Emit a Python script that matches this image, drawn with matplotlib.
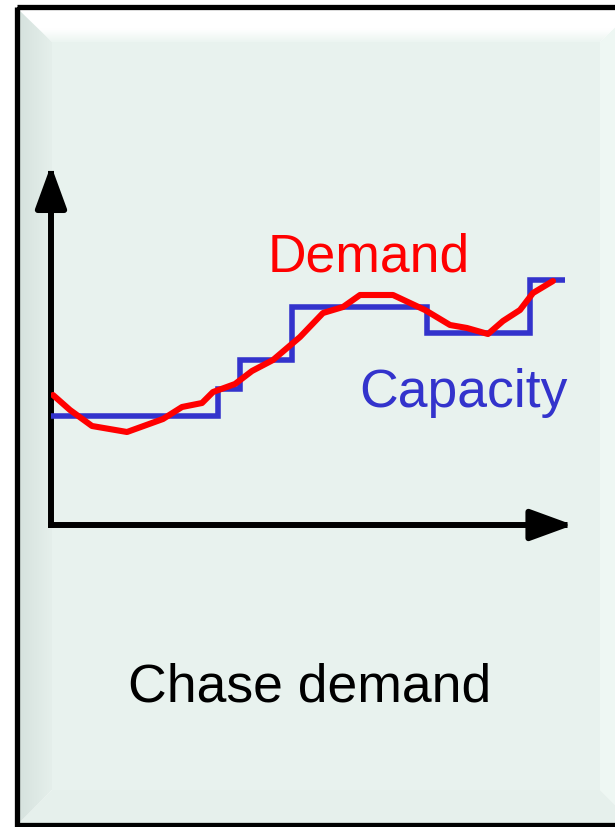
import numpy as np
import matplotlib.pyplot as plt
from matplotlib.patches import Polygon, Rectangle

plt.rcParams['font.family'] = ['Liberation Sans', 'DejaVu Sans']

# demand curve: period vs. units
demand_t = [2, 19, 41, 76, 112, 131, 151, 162, 184, 201, 222, 249, 272, 292,
            309, 342, 374, 399, 416, 437, 452, 469, 482, 502]
demand_y = [130, 115, 99, 93, 106, 118, 122, 133, 141, 154, 165, 188, 212, 218,
            230, 230, 215, 200, 197, 191, 204, 215, 232, 244]

# capacity is adjusted in steps
capacity_edges = [0, 167, 189, 241, 376, 479, 514]
capacity_levels = [109, 136, 165, 218, 192, 245]

RED = '#ff0000'
BLUE = '#3333cc'

fig = plt.figure(figsize=(6.15, 8.27), dpi=100)

# bevelled card behind the chart, drawn in pixel units
bg = fig.add_axes([0, 0, 1, 1])
bg.set_xlim(0, 615)
bg.set_ylim(827, 0)
bg.axis('off')

ox0, oy0, ox1, oy1 = 19, 10, 633, 823
ix0, iy0, ix1, iy1 = 52, 42, 600, 790

bg.add_patch(Rectangle((ix0, iy0), ix1 - ix0, iy1 - iy0, color='#e8f2ee', lw=0))

top = Polygon([(ox0, oy0), (ox1, oy0), (ix1, iy0), (ix0, iy0)], closed=True,
              facecolor='none', lw=0)
left = Polygon([(ox0, oy0), (ix0, iy0), (ix0, iy1), (ox0, oy1)], closed=True,
               facecolor='none', lw=0)
right = Polygon([(ox1, oy0), (ox1, oy1), (ix1, iy1), (ix1, iy0)], closed=True,
                facecolor='#eef7f3', lw=0)
bottom = Polygon([(ox0, oy1), (ix0, iy1), (ix1, iy1), (ox1, oy1)], closed=True,
                 facecolor='#e6f0ec', lw=0)
for p in (top, left, right, bottom):
    bg.add_patch(p)

# gradients for the lit top edge and the shaded left edge
g = np.linspace(0, 1, 64)
top_rgb = np.array([1.0, 1.0, 1.0])
top_end = np.array([236, 245, 241]) / 255
w = np.clip((g - 0.6) / 0.4, 0, 1)[:, None]
top_img = (top_rgb * (1 - w) + top_end * w)[:, None, :]
im = bg.imshow(top_img, extent=(ox0, ox1, iy0, oy0), aspect='auto',
               interpolation='bilinear', zorder=1)
im.set_clip_path(top)

left_a = np.array([214, 226, 222]) / 255
left_b = np.array([229, 239, 235]) / 255
left_img = (left_a * (1 - g[:, None]) + left_b * g[:, None])[None, :, :]
im = bg.imshow(left_img, extent=(ox0, ix0, oy1, oy0), aspect='auto',
               interpolation='bilinear', zorder=1)
im.set_clip_path(left)

bg.add_patch(Rectangle((16.5, 7.2), 700, 818, facecolor='none',
                       edgecolor='black', lw=3.8, zorder=3))

bg.text(310, 702, 'Chase demand', fontsize=38.5, color='black',
        ha='center', va='baseline', zorder=4)

# chart area
ax = fig.add_axes([51 / 615, (827 - 525) / 827, 514 / 615, 351 / 827])
ax.set_xlim(0, 514)
ax.set_ylim(0, 351)
ax.patch.set_alpha(0)
ax.axis('off')

arrow = dict(arrowstyle='-|>,head_length=2.6,head_width=0.95', mutation_scale=10,
             lw=4.3, color='black', shrinkA=0, shrinkB=0,
             capstyle='projecting', joinstyle='round')
ax.annotate('', xy=(0, 1.025), xytext=(0, 0), xycoords='axes fraction', arrowprops=arrow)
ax.annotate('', xy=(1.016, 0), xytext=(0, 0), xycoords='axes fraction', arrowprops=arrow)

ax.stairs(capacity_levels, capacity_edges, baseline=None, color=BLUE, lw=4.0, zorder=3)
ax.plot(demand_t, demand_y, color=RED, lw=4.4, solid_joinstyle='round',
        solid_capstyle='round', zorder=4)

ax.text(318, 254, 'Demand', fontsize=38.5, color=RED, ha='center', va='baseline')
ax.text(412, 118, 'Capacity', fontsize=38.5, color=BLUE, ha='center', va='baseline')

fig.savefig('out.png', dpi=100)
